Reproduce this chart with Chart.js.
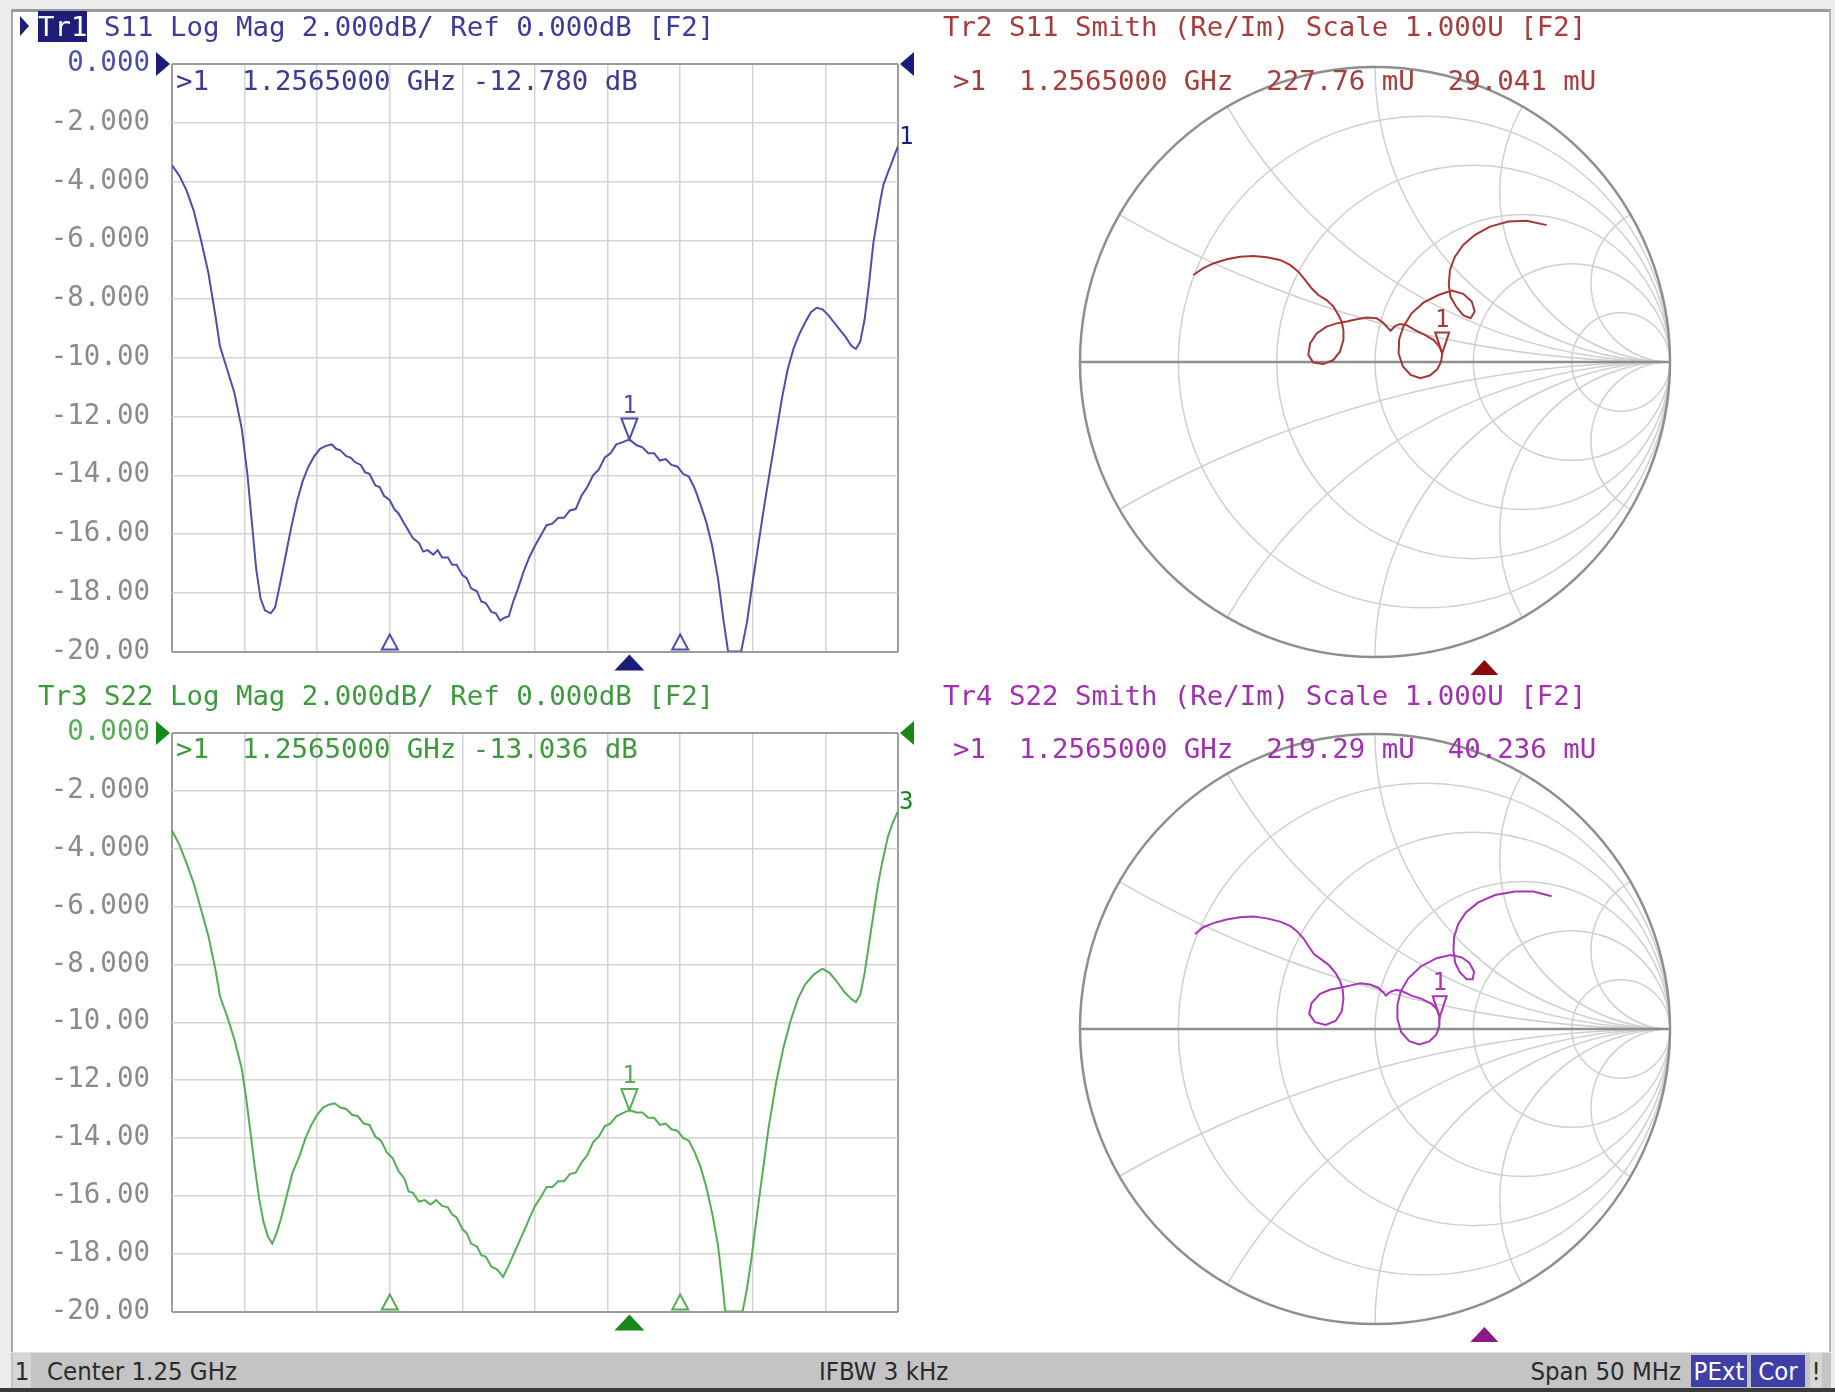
<!DOCTYPE html>
<html>
<head>
<meta charset="utf-8">
<script src="https://cdn.jsdelivr.net/npm/chart.js@4.4.1/dist/chart.umd.min.js"></script>
<style>
  body { margin: 0; width: 1835px; height: 1392px; background: #ececec; position: relative; overflow: hidden; }
  #frame { position: absolute; left: 11px; top: 9px; width: 1816px; height: 1343px; background: #fff;
           border-left: 2px solid #a6a6a6; border-top: 3px solid #9a9a9a; border-right: 2px solid #b4b4b4; }
  canvas { position: absolute; }
  .t { position: absolute; font-family: "DejaVu Sans Mono", monospace; font-size: 27.4px; line-height: 30px; white-space: pre; }
  .hl { background: #1e1e78; color: #fff; }
  #act { position: absolute; left: 20px; top: 16px; width: 0; height: 0; border-left: 9px solid #1e1e78;
         border-top: 10px solid transparent; border-bottom: 10px solid transparent; }
  #status { position: absolute; left: 11px; top: 1352px; width: 1820px; height: 36px; background: #c4c4c4;
            border-top: 1px solid #e2e2e2; font-family: "DejaVu Sans Condensed", "Liberation Sans Narrow", sans-serif;
            font-size: 25.5px; color: #2a2a2a; }
  #status span { position: absolute; top: 0; line-height: 36px; white-space: pre; }
  #status .box { background: #3f3fa8; color: #fff; text-align: center; top: 2px; line-height: 32px; height: 32px; }
  #bottomline { position: absolute; left: 0; top: 1388px; width: 1835px; height: 4px; background: #3a3a3a; }
</style>
</head>
<body>
<div id="frame"></div>
<canvas id="c1" width="930" height="690" style="left:0;top:0"></canvas>
<canvas id="c3" width="930" height="660" style="left:0;top:690px"></canvas>
<canvas id="c2" width="880" height="690" style="left:930px;top:0"></canvas>
<canvas id="c4" width="880" height="660" style="left:930px;top:690px"></canvas>

<div id="act"></div>
<div class="t" style="left:38px;top:12px;color:#3b3b98"><span class="hl">Tr1</span> S11 Log Mag 2.000dB/ Ref 0.000dB [F2]</div>
<div class="t" style="left:176px;top:66px;color:#3b3b98">&gt;1  1.2565000 GHz -12.780 dB</div>
<div class="t" style="left:38px;top:681px;color:#3c9a3c">Tr3 S22 Log Mag 2.000dB/ Ref 0.000dB [F2]</div>
<div class="t" style="left:176px;top:734px;color:#3c9a3c">&gt;1  1.2565000 GHz -13.036 dB</div>
<div class="t" style="left:943px;top:12px;color:#a83c3c">Tr2 S11 Smith (Re/Im) Scale 1.000U [F2]</div>
<div class="t" style="left:953px;top:66px;color:#a83c3c">&gt;1  1.2565000 GHz  227.76 mU  29.041 mU</div>
<div class="t" style="left:943px;top:681px;color:#a030b0">Tr4 S22 Smith (Re/Im) Scale 1.000U [F2]</div>
<div class="t" style="left:953px;top:734px;color:#a030b0">&gt;1  1.2565000 GHz  219.29 mU  40.236 mU</div>

<div id="status">
  <span style="left:2px;width:18px;background:#d6d6d6;text-align:center">1</span>
  <span style="left:36px">Center 1.25 GHz</span>
  <span style="left:808px">IFBW 3 kHz</span>
  <span style="right:150px">Span 50 MHz</span>
  <span class="box" style="left:1680px;width:56px">PExt</span>
  <span class="box" style="left:1740px;width:54px">Cor</span>
  <span style="left:1799px;width:12px;background:#d6d6d6;text-align:center">!</span>
</div>
<div id="bottomline"></div>

<script>
// sweep: center 1.25 GHz, span 50 MHz (values in MHz)
const startMHz = 1225;
const stopMHz = 1275;
const markerMHz = 1256.5;
const bwMarkersMHz = [1240, 1260];

// Tr1 S11 log mag (dB)
const freqS11 = [1225.0, 1225.5, 1226.0, 1226.5, 1227.0, 1227.5, 1228.0, 1228.3, 1228.8, 1229.3, 1229.8, 1230.2, 1230.5, 1230.8, 1231.1, 1231.4, 1231.8, 1232.1, 1232.4, 1232.8,
  1233.2, 1233.6, 1234.0, 1234.4, 1234.8, 1235.2, 1235.6, 1236.0, 1236.3, 1236.6, 1237.0, 1237.3, 1237.6, 1238.0, 1238.3, 1238.6, 1239.0, 1239.3, 1239.6, 1240.0,
  1240.3, 1240.6, 1241.0, 1241.3, 1241.6, 1242.0, 1242.3, 1242.6, 1243.0, 1243.3, 1243.6, 1244.0, 1244.3, 1244.6, 1245.0, 1245.3, 1245.6, 1246.0, 1246.3, 1246.6,
  1247.0, 1247.3, 1247.6, 1247.9, 1248.2, 1248.5, 1248.8, 1249.2, 1249.6, 1250.0, 1250.4, 1250.8, 1251.2, 1251.6, 1252.0, 1252.4, 1252.8, 1253.2, 1253.6, 1254.0,
  1254.4, 1254.8, 1255.2, 1255.6, 1256.0, 1256.5, 1257.0, 1257.4, 1257.8, 1258.2, 1258.6, 1259.0, 1259.4, 1259.8, 1260.2, 1260.6, 1261.0, 1261.4, 1261.8, 1262.2,
  1262.6, 1263.0, 1263.3, 1264.2, 1264.6, 1265.0, 1265.4, 1265.8, 1266.2, 1266.6, 1267.0, 1267.4, 1267.8, 1268.2, 1268.6, 1269.0, 1269.4, 1269.8, 1270.2, 1270.6,
  1271.0, 1271.4, 1271.8, 1272.1, 1272.4, 1272.7, 1273.0, 1273.3, 1273.5, 1273.8, 1274.0, 1274.3, 1274.5, 1274.8, 1275.0];
const magS11 = [-3.45, -3.8, -4.3, -5.0, -6.0, -7.1, -8.6, -9.6, -10.4, -11.2, -12.4, -14.0, -15.6, -17.2, -18.2, -18.6, -18.7, -18.5, -17.8, -16.8,
  -15.8, -14.9, -14.2, -13.7, -13.35, -13.1, -13.0, -12.95, -13.1, -13.15, -13.35, -13.4, -13.55, -13.65, -13.9, -13.95, -14.35, -14.4, -14.7, -14.85,
  -15.15, -15.3, -15.65, -15.9, -16.15, -16.3, -16.6, -16.55, -16.7, -16.55, -16.8, -16.8, -17.05, -17.05, -17.4, -17.5, -17.85, -17.95, -18.3, -18.35,
  -18.65, -18.7, -18.95, -18.85, -18.8, -18.3, -17.9, -17.3, -16.8, -16.4, -16.05, -15.7, -15.65, -15.45, -15.45, -15.2, -15.15, -14.7, -14.4, -14.0,
  -13.8, -13.4, -13.25, -12.95, -12.88, -12.78, -12.98, -13.05, -13.25, -13.25, -13.5, -13.45, -13.65, -13.7, -13.95, -14.05, -14.45, -15.0, -15.6, -16.4,
  -17.5, -19.0, -20.0, -20.0, -19.0, -17.6, -16.3, -15.0, -13.8, -12.6, -11.4, -10.4, -9.7, -9.2, -8.8, -8.45, -8.3, -8.35, -8.55, -8.8,
  -9.05, -9.3, -9.6, -9.7, -9.45, -8.7, -7.5, -6.1, -5.5, -4.6, -4.1, -3.7, -3.45, -3.05, -2.8];
const markerS11 = -12.780;

// Tr3 S22 log mag (dB)
const freqS22 = [1225.0, 1225.5, 1226.0, 1226.5, 1227.0, 1227.5, 1228.0, 1228.3, 1228.8, 1229.3, 1229.8, 1230.1, 1230.4, 1230.7, 1231.0, 1231.3, 1231.6, 1231.9, 1232.2, 1232.5,
  1232.9, 1233.3, 1233.8, 1234.2, 1234.6, 1235.0, 1235.4, 1235.8, 1236.2, 1236.6, 1237.0, 1237.4, 1237.8, 1238.2, 1238.6, 1239.0, 1239.4, 1239.8, 1240.2, 1240.6,
  1241.0, 1241.3, 1241.6, 1242.0, 1242.4, 1242.8, 1243.2, 1243.6, 1244.0, 1244.3, 1244.6, 1245.0, 1245.3, 1245.6, 1246.0, 1246.3, 1246.6, 1247.0, 1247.4, 1247.8,
  1248.1, 1248.5, 1248.9, 1249.3, 1249.6, 1250.0, 1250.4, 1250.8, 1251.2, 1251.6, 1252.0, 1252.4, 1252.8, 1253.2, 1253.6, 1254.0, 1254.4, 1254.8, 1255.2, 1255.6,
  1256.0, 1256.5, 1257.0, 1257.4, 1257.8, 1258.2, 1258.6, 1259.0, 1259.4, 1259.8, 1260.2, 1260.6, 1261.0, 1261.4, 1261.8, 1262.2, 1262.6, 1262.9, 1263.1, 1264.3,
  1264.6, 1264.9, 1265.3, 1265.7, 1266.1, 1266.6, 1267.1, 1267.6, 1268.1, 1268.6, 1269.2, 1269.8, 1270.3, 1270.8, 1271.3, 1271.8, 1272.1, 1272.4, 1272.7, 1273.0,
  1273.3, 1273.6, 1273.9, 1274.3, 1274.6, 1275.0];
const magS22 = [-3.38, -3.85, -4.5, -5.2, -6.1, -7.0, -8.2, -9.1, -9.8, -10.6, -11.6, -12.6, -13.8, -15.0, -16.1, -16.9, -17.4, -17.65, -17.3, -16.8,
  -16.0, -15.2, -14.6, -14.0, -13.55, -13.2, -12.95, -12.85, -12.8, -12.95, -13.0, -13.2, -13.25, -13.5, -13.55, -13.95, -14.1, -14.5, -14.7, -15.15,
  -15.4, -15.85, -15.9, -16.2, -16.15, -16.3, -16.15, -16.35, -16.4, -16.65, -16.75, -17.15, -17.3, -17.65, -17.75, -18.05, -18.1, -18.45, -18.55, -18.8,
  -18.5, -18.05, -17.6, -17.15, -16.8, -16.35, -16.05, -15.7, -15.7, -15.5, -15.5, -15.25, -15.2, -14.85, -14.6, -14.15, -13.95, -13.6, -13.5, -13.25,
  -13.15, -13.04, -13.12, -13.12, -13.3, -13.3, -13.55, -13.5, -13.7, -13.75, -14.0, -14.1, -14.5, -15.0, -15.7, -16.6, -17.7, -19.0, -20.0, -20.0,
  -19.2, -18.2, -16.6, -15.1, -13.6, -12.1, -10.9, -9.95, -9.2, -8.7, -8.35, -8.15, -8.3, -8.6, -8.95, -9.2, -9.3, -9.05, -8.3, -7.3,
  -6.3, -5.3, -4.5, -3.6, -3.15, -2.7];
const markerS22 = -13.036;

// Tr2 S11 Smith, real / imaginary part of reflection coefficient
const reS11 = [-0.616, -0.582, -0.548, -0.503, -0.458, -0.412, -0.367, -0.322, -0.288, -0.260, -0.237, -0.215, -0.192, -0.164, -0.141, -0.124, -0.113, -0.107,
  -0.107, -0.119, -0.141, -0.175, -0.209, -0.226, -0.220, -0.198, -0.164, -0.130, -0.096, -0.062, -0.028, 0.006, 0.028, 0.045, 0.053, 0.068,
  0.085, 0.107, 0.136, 0.169, 0.198, 0.218, 0.228, 0.224, 0.211, 0.186, 0.153, 0.121, 0.094, 0.080, 0.082, 0.096, 0.124, 0.164,
  0.215, 0.260, 0.299, 0.328, 0.338, 0.324, 0.299, 0.275, 0.256, 0.250, 0.254, 0.271, 0.299, 0.339, 0.390, 0.452, 0.514, 0.582];
const imS11 = [0.295, 0.318, 0.334, 0.348, 0.357, 0.359, 0.355, 0.346, 0.329, 0.306, 0.278, 0.250, 0.227, 0.210, 0.188, 0.159, 0.137, 0.108,
  0.075, 0.035, 0.007, -0.007, -0.002, 0.024, 0.063, 0.097, 0.120, 0.131, 0.137, 0.145, 0.151, 0.148, 0.133, 0.114, 0.106, 0.122,
  0.129, 0.125, 0.108, 0.092, 0.075, 0.052, 0.029, 0.001, -0.025, -0.046, -0.055, -0.044, -0.014, 0.029, 0.077, 0.120, 0.165, 0.201,
  0.227, 0.242, 0.231, 0.205, 0.171, 0.148, 0.159, 0.188, 0.221, 0.261, 0.312, 0.357, 0.397, 0.431, 0.459, 0.476, 0.479, 0.464];
const markerReS11 = 0.22776;
const markerImS11 = 0.029041;

// Tr4 S22 Smith
const reS22 = [-0.610, -0.582, -0.548, -0.503, -0.458, -0.412, -0.367, -0.322, -0.288, -0.263, -0.241, -0.223, -0.207, -0.181, -0.155, -0.134, -0.119, -0.110,
  -0.107, -0.113, -0.134, -0.168, -0.203, -0.223, -0.215, -0.186, -0.153, -0.119, -0.085, -0.051, -0.017, 0.011, 0.028, 0.037, 0.053, 0.073,
  0.094, 0.124, 0.158, 0.192, 0.211, 0.219, 0.218, 0.207, 0.184, 0.150, 0.116, 0.089, 0.076, 0.076, 0.087, 0.113, 0.155, 0.209,
  0.256, 0.294, 0.320, 0.336, 0.331, 0.311, 0.288, 0.272, 0.266, 0.268, 0.282, 0.308, 0.350, 0.407, 0.475, 0.537, 0.599];
const imS22 = [0.322, 0.345, 0.359, 0.371, 0.379, 0.381, 0.375, 0.364, 0.350, 0.330, 0.305, 0.277, 0.254, 0.235, 0.215, 0.190, 0.164, 0.136,
  0.102, 0.059, 0.027, 0.014, 0.023, 0.051, 0.088, 0.119, 0.133, 0.140, 0.147, 0.155, 0.151, 0.140, 0.124, 0.113, 0.127, 0.133,
  0.127, 0.113, 0.102, 0.085, 0.066, 0.040, 0.009, -0.020, -0.042, -0.052, -0.041, -0.011, 0.034, 0.081, 0.127, 0.172, 0.212, 0.240,
  0.251, 0.243, 0.224, 0.194, 0.169, 0.169, 0.192, 0.224, 0.266, 0.311, 0.356, 0.395, 0.429, 0.454, 0.466, 0.466, 0.450];
const markerReS22 = 0.21929;
const markerImS22 = 0.040236;

// Smith grid: constant resistance circles and reactance arcs
const smithR = [0.2, 0.5, 1, 2, 5];
const smithX = [0.268, 0.577, 1, 1.732, 3.732];

const monoFont = '"DejaVu Sans Mono", monospace';

function tri(ctx, pts, fill, stroke) {
  ctx.beginPath();
  ctx.moveTo(pts[0][0], pts[0][1]);
  ctx.lineTo(pts[1][0], pts[1][1]);
  ctx.lineTo(pts[2][0], pts[2][1]);
  ctx.closePath();
  if (fill) { ctx.fillStyle = fill; ctx.fill(); }
  if (stroke) { ctx.strokeStyle = stroke; ctx.lineWidth = 2; ctx.stroke(); }
}

// reference arrows, marker, bandwidth marks, trace number
const magMarks = {
  id: 'magMarks',
  afterDatasetsDraw(chart, args, o) {
    const { ctx, chartArea: a, scales: { x, y } } = chart;
    ctx.save();
    const y0 = y.getPixelForValue(0);
    tri(ctx, [[a.left - 2, y0], [a.left - 16, y0 - 12], [a.left - 16, y0 + 12]], o.dark);
    tri(ctx, [[a.right + 2, y0], [a.right + 16, y0 - 12], [a.right + 16, y0 + 12]], o.dark);
    // bandwidth markers on the bottom line
    bwMarkersMHz.forEach(f => {
      const xb = x.getPixelForValue(f);
      tri(ctx, [[xb, a.bottom - 17], [xb - 8, a.bottom - 2], [xb + 8, a.bottom - 2]], '#fff', o.col);
    });
    // marker 1
    const xm = x.getPixelForValue(markerMHz), ym = y.getPixelForValue(o.mk);
    tri(ctx, [[xm, ym], [xm - 8, ym - 21], [xm + 8, ym - 21]], '#fff', o.col);
    ctx.fillStyle = o.col;
    ctx.font = '24px ' + monoFont;
    ctx.textAlign = 'center';
    ctx.textBaseline = 'bottom';
    ctx.fillText('1', xm, ym - 21);
    // stimulus marker below the grid
    tri(ctx, [[xm, a.bottom + 3], [xm - 15, a.bottom + 19], [xm + 15, a.bottom + 19]], o.dark);
    // trace number at the end of the trace
    const last = chart.data.datasets[0].data.at(-1);
    ctx.textAlign = 'left';
    ctx.textBaseline = 'middle';
    ctx.fillText(o.num, a.right + 1, y.getPixelForValue(last.y) - 8);
    ctx.restore();
  }
};

function magChart(id, freqs, mags, col, dark, mk, num, pad) {
  const edge = '#9c9c9c', grid = '#d4d4d4';
  return new Chart(document.getElementById(id), {
    type: 'line',
    data: { datasets: [{ data: freqs.map((f, i) => ({ x: f, y: mags[i] })), borderColor: col, borderWidth: 2, pointRadius: 0, tension: 0 }] },
    options: {
      responsive: false, animation: false, events: [],
      layout: { padding: pad },
      plugins: { legend: { display: false }, tooltip: { enabled: false }, magMarks: { col, dark, mk, num } },
      scales: {
        x: {
          type: 'linear', min: startMHz, max: stopMHz,
          ticks: { stepSize: 5, display: false },
          grid: { drawTicks: false, lineWidth: c => (c.index === 0 || c.index === 10) ? 2 : 1.5, color: c => (c.index === 0 || c.index === 10) ? edge : grid },
          border: { display: false },
          afterFit: s => { s.height = 0; }
        },
        y: {
          min: -20, max: 0,
          ticks: {
            stepSize: 2, padding: 22,
            font: { family: monoFont, size: 27.5 },
            color: c => c.tick.value === 0 ? col : '#8a8a8a',
            callback: v => Number(v).toPrecision(4)
          },
          grid: { drawTicks: false, lineWidth: c => (c.tick.value === 0 || c.tick.value === -20) ? 2 : 1.5, color: c => (c.tick.value === 0 || c.tick.value === -20) ? edge : grid },
          border: { display: false },
          afterFit: s => { s.width = 172; }
        }
      }
    },
    plugins: [magMarks]
  });
}

const smithGrid = {
  id: 'smithGrid',
  beforeDatasetsDraw(chart) {
    const { ctx, scales: { x, y } } = chart;
    const cx = x.getPixelForValue(0), cy = y.getPixelForValue(0), R = x.getPixelForValue(1) - cx;
    ctx.save();
    ctx.beginPath();
    ctx.arc(cx, cy, R, 0, Math.PI * 2);
    ctx.clip();
    ctx.strokeStyle = '#cfcfcf';
    ctx.lineWidth = 1.5;
    smithR.forEach(r => {
      ctx.beginPath();
      ctx.arc(cx + R * r / (1 + r), cy, R / (1 + r), 0, Math.PI * 2);
      ctx.stroke();
    });
    smithX.forEach(xv => {
      [1, -1].forEach(s => {
        ctx.beginPath();
        ctx.arc(cx + R, cy - s * R / xv, R / xv, 0, Math.PI * 2);
        ctx.stroke();
      });
    });
    ctx.restore();
    ctx.save();
    ctx.strokeStyle = '#8e8e8e';
    ctx.lineWidth = 2.5;
    ctx.beginPath();
    ctx.moveTo(cx - R, cy);
    ctx.lineTo(cx + R, cy);
    ctx.stroke();
    ctx.beginPath();
    ctx.arc(cx, cy, R, 0, Math.PI * 2);
    ctx.stroke();
    ctx.restore();
  },
  afterDatasetsDraw(chart, args, o) {
    const { ctx, scales: { x, y } } = chart;
    const cy = y.getPixelForValue(0), R = x.getPixelForValue(1) - x.getPixelForValue(0);
    const xm = x.getPixelForValue(o.re), ym = y.getPixelForValue(o.im);
    ctx.save();
    tri(ctx, [[xm, ym], [xm - 7, ym - 21], [xm + 7, ym - 21]], null, o.col);
    ctx.fillStyle = o.col;
    ctx.font = '24px ' + monoFont;
    ctx.textAlign = 'center';
    ctx.textBaseline = 'bottom';
    ctx.fillText('1', xm, ym - 21);
    const xs = (markerMHz - startMHz) / (stopMHz - startMHz) * chart.width;
    tri(ctx, [[xs, cy + R + 3], [xs - 14, cy + R + 18], [xs + 14, cy + R + 18]], o.dark);
    ctx.restore();
  }
};

function smithChart(id, re, im, col, dark, mre, mim, pad) {
  return new Chart(document.getElementById(id), {
    type: 'scatter',
    data: { datasets: [{ data: re.map((r, i) => ({ x: r, y: im[i] })), showLine: true, borderColor: col, borderWidth: 2, pointRadius: 0, tension: 0 }] },
    options: {
      responsive: false, animation: false, events: [],
      layout: { padding: pad },
      plugins: { legend: { display: false }, tooltip: { enabled: false }, smithGrid: { col, dark, re: mre, im: mim } },
      scales: {
        x: { min: -1, max: 1, display: false },
        y: { min: -1, max: 1, display: false }
      }
    },
    plugins: [smithGrid]
  });
}

magChart('c1', freqS11, magS11, '#4a4fae', '#1c1c7c', markerS11, '1', { top: 64, right: 32, bottom: 35, left: 0 });
magChart('c3', freqS22, magS22, '#55ad55', '#17891a', markerS22, '3', { top: 43, right: 32, bottom: 26, left: 0 });
smithChart('c2', reS11, imS11, '#a53636', '#8b0b0b', markerReS11, markerImS11, { top: 67, right: 140, bottom: 33, left: 150 });
smithChart('c4', reS22, imS22, '#a835b6', '#8a1a8a', markerReS22, markerImS22, { top: 44, right: 140, bottom: 26, left: 150 });
</script>
</body>
</html>
